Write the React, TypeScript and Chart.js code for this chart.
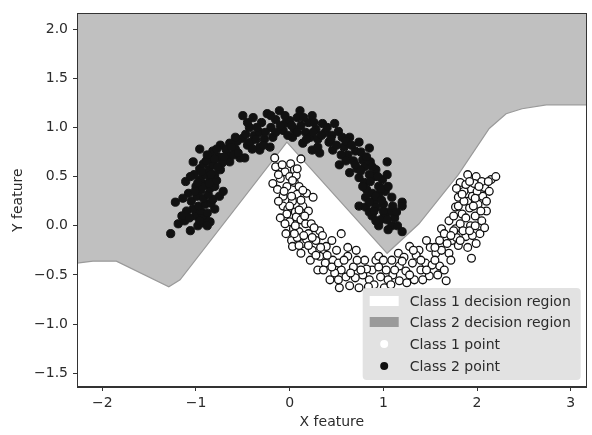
import React, { useEffect, useRef } from "react";
import { Chart, registerables } from "chart.js";

Chart.register(...registerables);

// ---- Data ----
const xTicks = [-2, -1, 0, 1, 2, 3];
const yTicks = [-1.5, -1.0, -0.5, 0.0, 0.5, 1.0, 1.5, 2.0];
const xMin = -2.27;
const xMax = 3.17;
const yMin = -1.64;
const yMax = 2.16;

// decision boundary (class 2 region lies above it)
const boundaryX = [-2.27, -2.1, -1.85, -1.29, -1.17, -0.03, 1.04, 1.38, 1.8, 2.13, 2.31, 2.48, 2.74, 3.17];
const boundaryY = [-0.38, -0.36, -0.36, -0.62, -0.55, 0.85, -0.28, 0.02, 0.52, 0.99, 1.14, 1.19, 1.23, 1.23];

const class2Points: [number, number][] = [
  [-1.27, -0.08], [-1.06, -0.05], [-1.19, 0.02], [-1.12, 0.05], [-0.98, 0.0], [-0.93, 0.03], [-0.85, 0.04],
  [-0.9, 0.08], [-1.0, 0.1], [-0.93, 0.1], [-1.03, 0.17], [-0.95, 0.15], [-0.88, 0.13], [-0.8, 0.17],
  [-1.1, 0.15], [-0.97, 0.2], [-0.9, 0.22], [-0.84, 0.23], [-1.22, 0.24], [-1.05, 0.25], [-0.82, 0.27],
  [-0.99, 0.3], [-0.92, 0.28], [-0.87, 0.32], [-0.75, 0.3], [-1.08, 0.33], [-0.71, 0.35], [-0.95, 0.36],
  [-0.85, 0.38], [-1.0, 0.4], [-0.9, 0.42], [-0.8, 0.4], [-1.11, 0.45], [-0.85, 0.47], [-0.95, 0.47],
  [-0.78, 0.46], [-1.02, 0.52], [-0.9, 0.52], [-0.8, 0.52], [-0.74, 0.57], [-0.86, 0.57], [-0.96, 0.58],
  [-0.82, 0.62], [-0.92, 0.63], [-1.03, 0.65], [-0.64, 0.65], [-0.72, 0.64], [-0.85, 0.68], [-0.76, 0.7],
  [-0.53, 0.69], [-0.48, 0.69], [-0.66, 0.72], [-0.96, 0.78], [-0.74, 0.82], [-0.64, 0.84], [-0.82, 0.76],
  [-0.58, 0.78], [-0.5, 0.89],
  [-0.56, 0.86], [-0.45, 0.82], [-0.32, 0.77], [-0.21, 0.8], [-0.32, 0.8], [-0.43, 1.0], [-0.38, 0.92],
  [-0.32, 0.95], [-0.27, 0.88], [-0.18, 0.9], [-0.5, 1.12], [-0.39, 1.1], [-0.24, 1.14], [-0.11, 1.17],
  [-0.3, 1.05], [-0.2, 1.0], [-0.15, 1.08], [-0.07, 0.97], [-0.04, 1.05], [0.0, 1.07], [0.03, 0.9],
  [0.05, 0.98], [0.08, 1.1], [0.11, 1.17], [0.12, 1.02], [0.14, 0.84], [0.17, 0.95], [0.2, 1.05],
  [0.24, 1.12], [0.22, 0.9], [0.24, 0.77], [0.28, 0.98], [0.32, 0.74], [0.3, 0.88], [0.35, 1.04],
  [0.38, 0.95], [0.42, 0.85], [0.46, 0.77], [0.48, 1.04], [0.45, 0.92], [0.52, 0.96], [0.56, 0.9],
  [0.53, 0.62], [0.58, 0.8], [0.64, 0.9], [0.62, 0.72], [0.64, 0.54], [0.68, 0.66], [0.74, 0.85], [0.7, 0.76],
  [0.85, 0.79], [0.78, 0.67], [0.8, 0.6], [0.72, 0.58], [0.92, 0.57], [0.86, 0.65], [1.04, 0.65],
  [0.99, 0.47], [0.9, 0.5], [0.85, 0.52], [1.04, 0.52], [0.74, 0.49], [0.8, 0.44], [0.95, 0.4],
  [0.82, 0.37], [0.88, 0.33], [0.95, 0.32], [1.09, 0.29], [0.81, 0.29], [1.02, 0.35], [0.9, 0.25],
  [1.2, 0.24], [0.74, 0.2], [0.81, 0.19], [0.92, 0.19], [1.0, 0.22], [1.2, 0.2], [1.06, 0.14],
  [0.88, 0.1], [1.01, 0.1], [0.95, 0.0], [1.09, 0.0], [1.2, -0.06], [0.97, 0.06], [1.12, 0.08],
  [0.85, 0.14], [1.05, -0.04],
  [-1.15, 0.1], [-1.07, 0.08], [-0.96, 0.05], [-0.88, 0.0], [-1.14, 0.28], [-1.01, 0.35], [-0.93, 0.4],
  [-0.86, 0.43], [-0.98, 0.44], [-1.06, 0.5], [-0.94, 0.55], [-0.84, 0.52], [-0.77, 0.6], [-0.89, 0.66],
  [-0.8, 0.68], [-0.7, 0.7], [-0.6, 0.72], [-0.68, 0.78], [-0.88, 0.72], [-0.78, 0.78], [-0.55, 0.74],
  [-0.62, 0.8], [-0.58, 0.9], [-0.47, 0.93], [-0.42, 0.85], [-0.36, 0.88], [-0.45, 1.05], [-0.35, 1.0],
  [-0.26, 0.95], [-0.15, 0.95], [-0.1, 1.02], [-0.2, 1.12], [-0.05, 1.12], [0.02, 1.02], [0.08, 0.95],
  [0.15, 1.1], [0.18, 0.88], [0.26, 1.05], [0.3, 0.8], [0.34, 0.92], [0.4, 1.0], [0.44, 0.88],
  [0.5, 0.82], [0.55, 0.72], [0.6, 0.66], [0.6, 0.86], [0.66, 0.82], [0.7, 0.62], [0.76, 0.75],
  [0.82, 0.7], [0.76, 0.56], [0.88, 0.6], [0.94, 0.5], [0.86, 0.45], [0.78, 0.4], [0.98, 0.38],
  [0.92, 0.3], [0.85, 0.24], [0.98, 0.26], [1.05, 0.4], [1.1, 0.2], [0.9, 0.15], [1.0, 0.15],
  [1.14, 0.14], [1.04, 0.06], [0.92, 0.05], [1.15, 0.0], [-0.02, 0.92], [0.25, 0.95], [-0.4, 0.78],
  [-0.28, 0.82],
];

const class1Points: [number, number][] = [
  [-0.16, 0.69], [0.12, 0.68], [-0.15, 0.6], [0.01, 0.63], [-0.05, 0.55], [0.05, 0.57], [-0.18, 0.43],
  [0.0, 0.5], [0.07, 0.51], [-0.1, 0.48], [-0.03, 0.4], [-0.13, 0.37], [0.05, 0.44], [0.1, 0.4],
  [0.18, 0.33], [0.25, 0.29], [0.03, 0.25], [-0.07, 0.3], [0.08, 0.32], [-0.07, 0.2], [0.14, 0.2],
  [-0.02, 0.17], [0.06, 0.14], [0.2, 0.15], [-0.03, 0.12], [0.07, 0.09], [0.12, 0.06], [-0.1, 0.08],
  [0.0, 0.04], [0.17, 0.02], [0.23, 0.02], [0.04, -0.03], [0.1, -0.06], [0.32, -0.05], [0.2, -0.08],
  [-0.04, -0.08], [0.02, -0.15], [0.14, -0.18], [0.03, -0.21], [0.24, -0.25], [0.39, -0.21], [0.08, -0.12],
  [0.18, -0.14], [0.28, -0.15], [0.55, -0.08], [0.32, -0.31], [0.46, -0.35], [0.12, -0.28], [0.22, -0.35],
  [0.3, -0.45], [0.38, -0.38], [0.5, -0.25], [0.43, -0.55], [0.53, -0.63], [0.64, -0.61], [0.71, -0.25],
  [0.62, -0.31], [0.55, -0.45], [0.48, -0.48], [0.6, -0.52], [0.68, -0.42], [0.74, -0.63], [0.85, -0.55],
  [0.92, -0.35], [0.8, -0.35],
  [0.88, -0.45], [0.95, -0.31], [1.03, -0.45], [1.09, -0.35], [1.17, -0.41], [1.16, -0.28], [1.01, -0.63],
  [1.17, -0.56], [1.28, -0.21], [1.38, -0.25], [1.31, -0.38], [1.45, -0.38], [1.33, -0.55], [1.49, -0.51],
  [1.6, -0.41], [1.67, -0.56], [1.56, -0.28], [1.7, -0.28], [1.46, -0.15], [1.6, -0.15], [1.73, -0.15],
  [1.62, -0.03], [1.94, -0.33], [0.97, -0.52], [0.78, -0.5], [0.9, -0.6], [1.1, -0.5], [1.24, -0.46],
  [1.22, -0.32], [1.4, -0.45], [1.52, -0.4], [1.35, -0.3], [1.5, -0.22], [1.42, -0.55], [1.58, -0.5],
  [0.7, -0.53], [0.82, -0.44], [1.05, -0.55], [1.25, -0.58],
  [1.9, 0.52], [1.99, 0.5], [2.15, 0.47], [1.82, 0.44], [1.94, 0.37], [2.08, 0.39], [1.8, 0.29],
  [1.9, 0.25], [2.01, 0.22], [2.1, 0.15], [1.77, 0.19], [1.84, 0.12], [1.98, 0.1], [2.03, -0.08],
  [1.99, -0.18], [1.7, 0.05], [1.77, -0.03], [1.88, -0.11], [2.2, 0.5], [2.05, 0.45], [1.86, 0.35],
  [1.95, 0.3], [2.06, 0.3], [1.92, 0.18], [2.05, 0.05], [1.82, 0.02], [1.93, 0.0], [1.75, 0.1],
  [1.85, -0.05], [1.78, -0.12], [1.65, -0.08], [1.95, -0.1], [2.1, 0.25], [1.88, 0.42], [1.97, 0.43],
  [2.13, 0.35], [1.68, -0.18], [1.8, -0.2], [1.9, -0.22],
  [-0.08, 0.62], [0.08, 0.58], [-0.12, 0.52], [0.03, 0.46], [-0.06, 0.35], [0.14, 0.36], [0.02, 0.3],
  [0.12, 0.26], [-0.12, 0.25], [0.0, 0.2], [0.1, 0.16], [0.16, 0.1], [-0.05, 0.02], [0.06, 0.0],
  [0.26, -0.02], [0.15, -0.1], [0.05, -0.08], [0.24, -0.12], [0.1, -0.2], [0.2, -0.2], [0.33, -0.22],
  [0.28, -0.3], [0.4, -0.3], [0.36, -0.45], [0.45, -0.42], [0.52, -0.38], [0.58, -0.35], [0.65, -0.48],
  [0.52, -0.55], [0.72, -0.35], [0.76, -0.45], [0.84, -0.62], [0.95, -0.42], [1.0, -0.35], [1.08, -0.6],
  [1.12, -0.45], [1.2, -0.36], [1.28, -0.5], [1.32, -0.25], [1.4, -0.35], [1.46, -0.45], [1.55, -0.35],
  [1.62, -0.25], [1.65, -0.45], [1.72, -0.35], [1.75, -0.05], [1.82, -0.15], [1.92, -0.05], [1.98, 0.0],
  [1.88, 0.08], [1.8, 0.2], [1.86, 0.25], [1.96, 0.2], [2.04, 0.15], [2.08, -0.02], [2.0, 0.35],
  [1.92, 0.45], [2.02, 0.4], [2.12, 0.45], [1.98, 0.28], [1.84, 0.32], [1.78, 0.38], [1.72, -0.1],
  [1.55, -0.22], [0.45, -0.15], [0.35, -0.1], [0.62, -0.22],
];

const legendLabels = ["Class 1 decision region", "Class 2 decision region", "Class 1 point", "Class 2 point"];
const xTitle = "X feature";
const yTitle = "Y feature";

const FONT = '"DejaVu Sans", sans-serif';
const TEXT = "#2b2b2b";
const REGION2 = "#c0c0c0";

const fmt = (v: number, digits: number) => v.toFixed(digits).replace("-", "\u2212");

const framePlugin = {
  id: "frame",
  afterDatasetsDraw(chart: any) {
    const { ctx, chartArea } = chart;
    ctx.save();
    ctx.strokeStyle = "#333";
    ctx.lineWidth = 1;
    ctx.strokeRect(
      Math.round(chartArea.left) + 0.5,
      Math.round(chartArea.top) + 0.5,
      Math.round(chartArea.right - chartArea.left) - 1,
      Math.round(chartArea.bottom - chartArea.top) - 1
    );
    ctx.restore();
  },
};

const legendPlugin = {
  id: "boxLegend",
  afterDraw(chart: any) {
    const { ctx, chartArea } = chart;
    const w = 218;
    const h = 92;
    const x0 = chartArea.right - 6 - w;
    const y0 = chartArea.bottom - 7 - h;
    const r = 4;
    ctx.save();
    ctx.beginPath();
    ctx.moveTo(x0 + r, y0);
    ctx.lineTo(x0 + w - r, y0);
    ctx.quadraticCurveTo(x0 + w, y0, x0 + w, y0 + r);
    ctx.lineTo(x0 + w, y0 + h - r);
    ctx.quadraticCurveTo(x0 + w, y0 + h, x0 + w - r, y0 + h);
    ctx.lineTo(x0 + r, y0 + h);
    ctx.quadraticCurveTo(x0, y0 + h, x0, y0 + h - r);
    ctx.lineTo(x0, y0 + r);
    ctx.quadraticCurveTo(x0, y0, x0 + r, y0);
    ctx.closePath();
    ctx.fillStyle = "#e2e2e2";
    ctx.fill();

    const rows = [13, 34, 56, 78];
    const patchX = x0 + 7;
    const patchW = 29;
    const textX = x0 + 47;
    ctx.font = `14px ${FONT}`;
    ctx.textBaseline = "middle";
    ctx.textAlign = "left";
    legendLabels.forEach((label, i) => {
      const cy = y0 + rows[i];
      if (i === 0) {
        ctx.fillStyle = "#ffffff";
        ctx.fillRect(patchX, cy - 5, patchW, 10);
      } else if (i === 1) {
        ctx.fillStyle = "#9a9a9a";
        ctx.fillRect(patchX, cy - 5, patchW, 10);
      } else {
        ctx.beginPath();
        ctx.arc(patchX + patchW / 2, cy, 4, 0, Math.PI * 2);
        ctx.fillStyle = i === 2 ? "#ffffff" : "#111111";
        ctx.fill();
      }
      ctx.fillStyle = TEXT;
      ctx.fillText(label, textX, cy + 1);
    });
    ctx.restore();
  },
};

export default function App() {
  const canvasRef = useRef<HTMLCanvasElement | null>(null);

  useEffect(() => {
    if (!canvasRef.current) return;
    const chart = new Chart(canvasRef.current, {
      type: "scatter",
      data: {
        datasets: [
          {
            type: "line",
            label: "boundary",
            data: boundaryX.map((x, i) => ({ x, y: boundaryY[i] })),
            borderColor: "#9a9a9a",
            borderWidth: 1.2,
            backgroundColor: REGION2,
            fill: "end",
            pointRadius: 0,
            tension: 0,
            order: 3,
          } as any,
          {
            label: "Class 1 point",
            data: class1Points.map(([x, y]) => ({ x, y })),
            backgroundColor: "#ffffff",
            borderColor: "#111111",
            borderWidth: 1.3,
            pointRadius: 3.9,
            order: 2,
          },
          {
            label: "Class 2 point",
            data: class2Points.map(([x, y]) => ({ x, y })),
            backgroundColor: "#111111",
            borderColor: "#111111",
            borderWidth: 1,
            pointRadius: 4.1,
            order: 1,
          },
        ],
      },
      options: {
        animation: false,
        responsive: true,
        maintainAspectRatio: false,
        layout: { padding: { top: 7, right: 3, left: 0, bottom: 0 } },
        plugins: {
          legend: { display: false },
          tooltip: { enabled: false },
        },
        scales: {
          x: {
            type: "linear",
            min: xMin,
            max: xMax,
            afterBuildTicks: (axis: any) => {
              axis.ticks = xTicks.map((v) => ({ value: v }));
            },
            afterFit: (scale: any) => {
              scale.height = 48;
            },
            ticks: {
              callback: (v: any) => fmt(Number(v), 0),
              color: TEXT,
              font: { family: FONT, size: 14 },
              padding: 4,
              maxRotation: 0,
              autoSkip: false,
            },
            grid: { display: true, drawOnChartArea: false, drawTicks: true, tickLength: 4, color: "#333" },
            border: { display: true, color: "#333", width: 1 },
            title: {
              display: true,
              text: xTitle,
              color: TEXT,
              font: { family: FONT, size: 14 },
              padding: { top: 0, bottom: 4 },
            },
          },
          y: {
            type: "linear",
            min: yMin,
            max: yMax,
            afterBuildTicks: (axis: any) => {
              axis.ticks = yTicks.map((v) => ({ value: v }));
            },
            afterFit: (scale: any) => {
              scale.width = 77;
            },
            ticks: {
              callback: (v: any) => fmt(Number(v), 1),
              color: TEXT,
              font: { family: FONT, size: 14 },
              padding: 5,
              autoSkip: false,
            },
            grid: { display: true, drawOnChartArea: false, drawTicks: true, tickLength: 4, color: "#333" },
            border: { display: true, color: "#333", width: 1 },
            title: {
              display: true,
              text: yTitle,
              color: TEXT,
              font: { family: FONT, size: 14 },
              padding: { top: 10, bottom: 0 },
            },
          },
        },
      },
      plugins: [framePlugin, legendPlugin],
    });
    return () => chart.destroy();
  }, []);

  return (
    <div style={{ position: "fixed", left: 0, top: 0, width: 592, height: 435, background: "#fff" }}>
      <canvas ref={canvasRef} />
    </div>
  );
}
